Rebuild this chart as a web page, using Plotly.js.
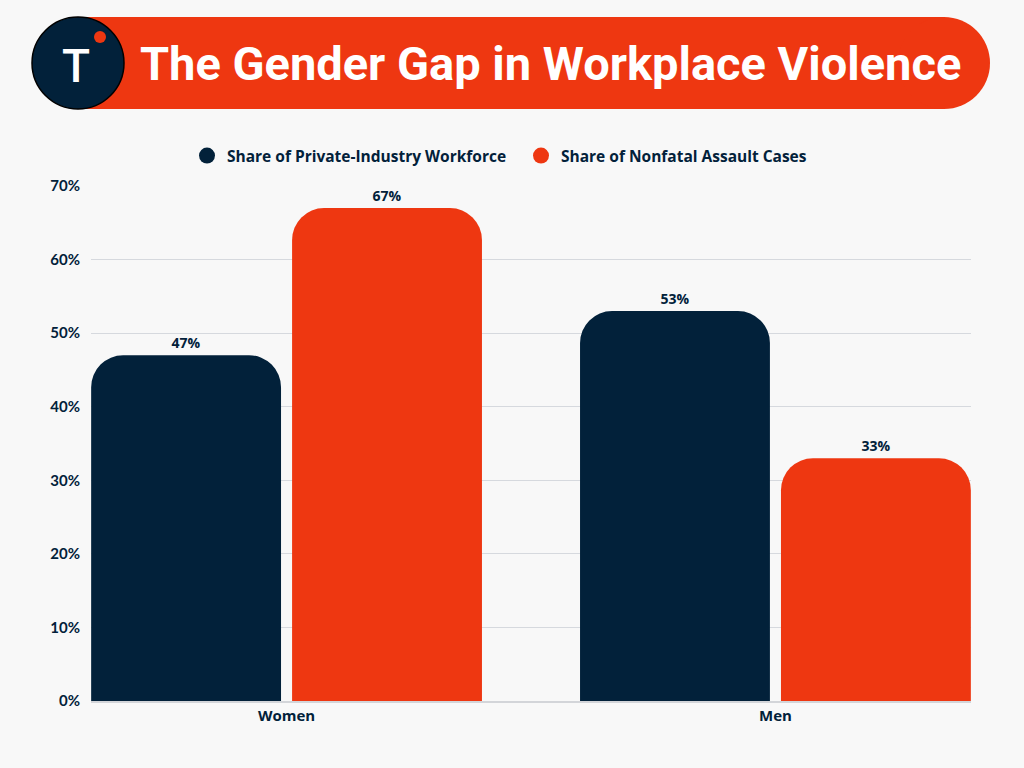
<!DOCTYPE html>
<html>
<head>
<meta charset="utf-8">
<script src="https://cdn.plot.ly/plotly-3.0.1.min.js"></script>
<style>html,body{margin:0;padding:0;background:#f8f8f8;}</style>
</head>
<body>
<div id="chart" style="width:1024px;height:768px;"></div>
<script>
const categories = ["Women", "Men"];
const seriesNames = ["Share of Private-Industry Workforce", "Share of Nonfatal Assault Cases"];
const workforceShare = [47, 53];
const assaultShare = [67, 33];
const yTickValues = [0, 10, 20, 30, 40, 50, 60, 70];
const yTickLabels = ["0%", "10%", "20%", "30%", "40%", "50%", "60%", "70%"];
const titleText = "The Gender Gap in Workplace Violence";

const NAVY = "#02213a";
const ORANGE = "#ee3711";
const W = 1024, H = 768;
const M = {l: 91, r: 53, t: 186, b: 67};
const PW = W - M.l - M.r, PH = H - M.t - M.b;
const px = x => (x - M.l) / PW;
const py = y => (H - M.b - y) / PH;

const traces = [
  {type: "bar", x: categories, y: workforceShare, name: seriesNames[0], showlegend: false,
   marker: {color: NAVY, cornerradius: 32},
   text: workforceShare.map(v => v + "%"), textposition: "outside", cliponaxis: false,
   textfont: {family: "Open Sans", size: 14, color: NAVY, weight: 700}, hoverinfo: "x+y"},
  {type: "bar", x: categories, y: assaultShare, name: seriesNames[1], showlegend: false,
   marker: {color: ORANGE, cornerradius: 32},
   text: assaultShare.map(v => v + "%"), textposition: "outside", cliponaxis: false,
   textfont: {family: "Open Sans", size: 14, color: NAVY, weight: 700}, hoverinfo: "x+y"},
  {type: "scatter", mode: "markers", x: [null], y: [null], name: seriesNames[0],
   marker: {color: NAVY, size: 16, symbol: "circle"}},
  {type: "scatter", mode: "markers", x: [null], y: [null], name: seriesNames[1],
   marker: {color: ORANGE, size: 16, symbol: "circle"}}
];

const shapes = [
  {type: "rect", xref: "paper", yref: "paper", x0: px(78), x1: px(944), y0: py(109), y1: py(17),
   fillcolor: ORANGE, line: {width: 0}, layer: "above"},
  {type: "circle", xref: "paper", yref: "paper", x0: px(898), x1: px(990), y0: py(109), y1: py(17),
   fillcolor: ORANGE, line: {width: 0}, layer: "above"},
  {type: "circle", xref: "paper", yref: "paper", x0: px(32), x1: px(124), y0: py(109), y1: py(17),
   fillcolor: NAVY, line: {width: 1.5, color: "#000000"}, layer: "above"},
  {type: "circle", xref: "paper", yref: "paper", x0: px(94), x1: px(106), y0: py(43), y1: py(31),
   fillcolor: ORANGE, line: {width: 0}, layer: "above"}
];

const annotations = [
  {xref: "paper", yref: "paper", x: px(550), y: py(64), text: titleText, showarrow: false,
   xanchor: "center", yanchor: "middle",
   font: {family: "Roboto", size: 47, color: "#ffffff", weight: 700}},
  {xref: "paper", yref: "paper", x: px(76), y: py(66), text: "T", showarrow: false,
   xanchor: "center", yanchor: "middle",
   font: {family: "Roboto", size: 46, color: "#ffffff", weight: 500}}
];

const layout = {
  width: W, height: H,
  margin: M,
  paper_bgcolor: "#f8f8f8", plot_bgcolor: "#f8f8f8",
  barmode: "group", bargap: 0.178, bargroupgap: 0.055,
  showlegend: true,
  legend: {orientation: "h", x: px(187), y: py(156), xanchor: "left", yanchor: "middle",
           font: {family: "Open Sans", size: 15.5, color: NAVY, weight: 700}, bgcolor: "rgba(0,0,0,0)",
           itemwidth: 30, entrywidth: 289, entrywidthmode: "pixels"},
  xaxis: {type: "category", range: [-0.4, 1.4], showgrid: false, zeroline: false,
          showline: true, linecolor: "#d3d5d9", linewidth: 2, ticks: "",
          tickfont: {family: "Open Sans", size: 15, color: NAVY, weight: 700}},
  yaxis: {range: [0, 70], tickmode: "array", tickvals: yTickValues, ticktext: yTickLabels, showgrid: true,
          gridcolor: "#d6d9de", gridwidth: 1, zeroline: false, showline: false, ticks: "",
          ticklabelstandoff: 10,
          tickfont: {family: "Lato", size: 15, color: NAVY, weight: 700}},
  shapes: shapes,
  annotations: annotations
};

Plotly.newPlot("chart", traces, layout, {displayModeBar: false, staticPlot: true});
</script>
</body>
</html>
